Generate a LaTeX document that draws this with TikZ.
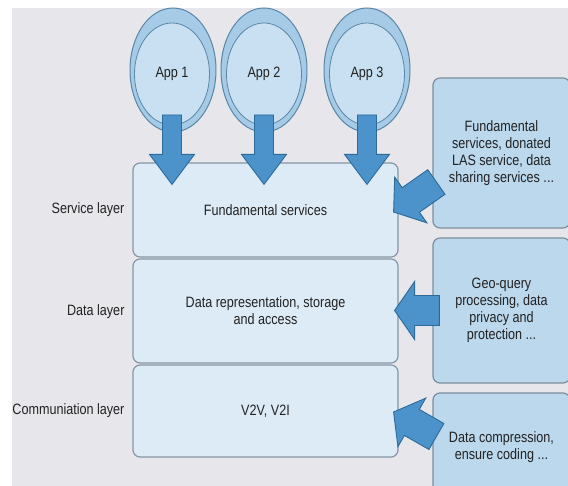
\documentclass[tikz,border=0pt]{standalone}
\usepackage{fontspec}
\setmainfont{Liberation Sans}[FakeStretch=0.84]
\usetikzlibrary{calc,shapes.geometric}
\definecolor{bgcol}{HTML}{E7E7EB}
\definecolor{layerfill}{HTML}{DDEBF6}
\definecolor{layerdraw}{HTML}{8497A6}
\definecolor{rfill}{HTML}{BCD8EC}
\definecolor{rdraw}{HTML}{7D8E9C}
\definecolor{appout}{HTML}{A6CBE6}
\definecolor{appoutdraw}{HTML}{5A86A8}
\definecolor{appin}{HTML}{C8E0F1}
\definecolor{arrfill}{HTML}{4C93CB}
\definecolor{arrdraw}{HTML}{2C6A98}
\definecolor{txt}{HTML}{222222}
\newcommand{\blockarrow}[5]{%
  \path ($(#2)!#5!(#1)$) coordinate (bh);
  \filldraw[barrow] ($(#1)!#3!90:(#2)$) -- ($(bh)!#3!-90:(#1)$) -- ($(bh)!#4!-90:(#1)$)
    -- (#2) -- ($(bh)!#4!90:(#1)$) -- ($(bh)!#3!90:(#1)$) -- ($(#1)!#3!-90:(#2)$) -- cycle;}
\tikzset{
  txtfont/.style={font=\fontsize{15}{17}\selectfont, text=txt},
  layerbox/.style={draw=layerdraw, fill=layerfill, line width=1.2pt, rounded corners=7pt,
    minimum width=265pt, align=center, txtfont},
  rbox/.style={draw=rdraw, fill=rfill, line width=1.2pt, rounded corners=7pt,
    minimum width=137pt, align=center, txtfont},
  layerlabel/.style={anchor=east, txtfont},
  appouter/.style={ellipse, draw=appoutdraw, fill=appout, line width=1pt,
    minimum width=86pt, minimum height=124pt},
  appinner/.style={ellipse, draw=appoutdraw, fill=appin, line width=0.8pt,
    minimum width=75pt, minimum height=102pt, txtfont},
  barrow/.style={fill=arrfill, draw=arrdraw, line width=0.9pt, line join=miter}
}
\begin{document}
\begin{tikzpicture}[x=1pt,y=-1pt]
\useasboundingbox (0,0) rectangle (568,486);
\clip (0,0) rectangle (568,486);
\fill[white] (0,0) rectangle (568,486);
\fill[bgcol] (12,8) rectangle (568,486);

% layer boxes
\node[layerbox, minimum height=94pt] (svc) at (265.5,210) {Fundamental services};
\node[layerbox, minimum height=104pt] (dat) at (265.5,311) {Data representation, storage\\and access};
\node[layerbox, minimum height=92pt] (com) at (265.5,411) {V2V, V2I};

% layer labels
\node[layerlabel] (l1) at (128,210) {Service layer};
\node[layerlabel] (l2) at (128,312) {Data layer};
\node[layerlabel] (l3) at (128,411) {Communiation layer};

% right boxes
\node[rbox, minimum height=150pt] (r1) at (501.5,153) {Fundamental\\services, donated\\LAS service, data\\sharing services ...};
\node[rbox, minimum height=145pt] (r2) at (501.5,310.5) {Geo-query\\processing, data\\privacy and\\protection ...};
\node[rbox, minimum height=109pt] (r3) at (501.5,447.5) {Data compression,\\ensure coding ...};

% apps
\node[appouter] (a1o) at (173,70) {};
\node[appinner] (a1) at (172,74) {App 1};
\node[appouter] (a2o) at (264,70) {};
\node[appinner] (a2) at (264,74) {App 2};
\node[appouter] (a3o) at (367,70) {};
\node[appinner] (a3) at (367,74) {App 3};

% down arrows
\foreach \a in {a1,a2,a3}{
  \coordinate (s\a) at ($(\a.center)+(0,41)$);
  \coordinate (e\a) at ($(\a |- svc.north)+(0,22)$);
  \blockarrow{s\a}{e\a}{9.5pt}{22.5pt}{30pt}
}

% side arrows
\coordinate (sr1) at ($(r1.west)+(4,29)$);
\coordinate (er1) at ($(svc.east)+(-5,2)$);
\blockarrow{sr1}{er1}{15pt}{28pt}{21pt}
\coordinate (sr2) at ($(r2.west)+(7,0)$);
\coordinate (er2) at ($(sr2 -| dat.east)+(-4,0)$);
\blockarrow{sr2}{er2}{15pt}{29pt}{20pt}
\coordinate (sr3) at ($(r3.west)+(4,-11)$);
\coordinate (er3) at ($(com.east)+(-5,1)$);
\blockarrow{sr3}{er3}{15pt}{28pt}{21pt}
\end{tikzpicture}
\end{document}
